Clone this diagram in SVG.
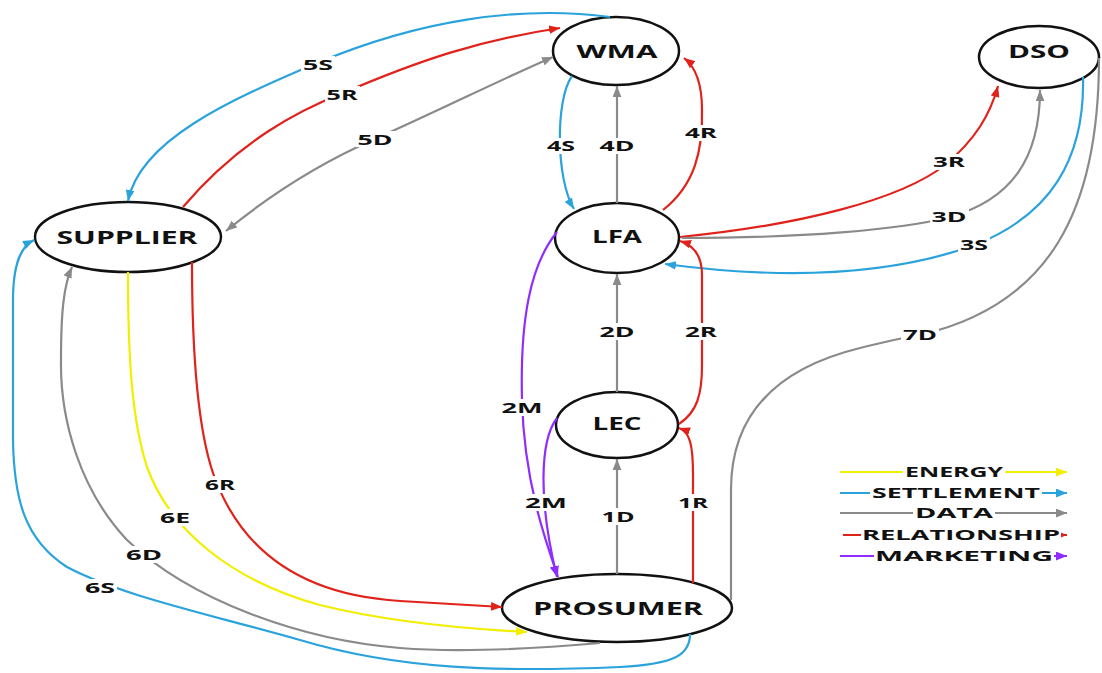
<svg xmlns="http://www.w3.org/2000/svg" width="1102" height="673" viewBox="0 0 1102 673">
<style>
.node ellipse{fill:#fff;stroke:#111;stroke-width:2.5}
.nt{font-family:"Open Sans","Liberation Sans",sans-serif;font-weight:bold;font-size:18px;fill:#111;text-anchor:middle}
.c{fill:none;stroke-width:2.2}
.y{stroke:#f2ee00}.b{stroke:#2aa3dc}.g{stroke:#8a8a8a}.r{stroke:#e0221b}.p{stroke:#8f2cff}
.lt{font-family:"Open Sans","Liberation Sans",sans-serif;font-weight:bold;font-size:15px;fill:#111;text-anchor:middle}
.bg{fill:#fff}
</style>
<defs>
<marker id="ay" viewBox="0 0 10 8" refX="10" refY="4" markerWidth="11" markerHeight="9" markerUnits="userSpaceOnUse" orient="auto-start-reverse"><path d="M0,0 L10,4 L0,8 z" fill="#f2ee00"/></marker>
<marker id="ab" viewBox="0 0 10 8" refX="10" refY="4" markerWidth="11" markerHeight="9" markerUnits="userSpaceOnUse" orient="auto-start-reverse"><path d="M0,0 L10,4 L0,8 z" fill="#2aa3dc"/></marker>
<marker id="ag" viewBox="0 0 10 8" refX="10" refY="4" markerWidth="11" markerHeight="9" markerUnits="userSpaceOnUse" orient="auto-start-reverse"><path d="M0,0 L10,4 L0,8 z" fill="#8a8a8a"/></marker>
<marker id="ar" viewBox="0 0 10 8" refX="10" refY="4" markerWidth="11" markerHeight="9" markerUnits="userSpaceOnUse" orient="auto-start-reverse"><path d="M0,0 L10,4 L0,8 z" fill="#e0221b"/></marker>
<marker id="ap" viewBox="0 0 10 8" refX="10" refY="4" markerWidth="11" markerHeight="9" markerUnits="userSpaceOnUse" orient="auto-start-reverse"><path d="M0,0 L10,4 L0,8 z" fill="#8f2cff"/></marker>
</defs>
<rect width="1102" height="673" fill="#fff"/>

<g id="nodes">
<g id="WMA" class="node"><ellipse cx="616" cy="51" rx="63" ry="34"/><text class="nt" x="617" y="58" textLength="81" lengthAdjust="spacingAndGlyphs">WMA</text></g>
<g id="DSO" class="node"><ellipse cx="1039" cy="57" rx="60" ry="31"/><text class="nt" x="1039" y="58" textLength="62" lengthAdjust="spacingAndGlyphs">DSO</text></g>
<g id="SUPPLIER" class="node"><ellipse cx="128" cy="237" rx="93" ry="35"/><text class="nt" x="127" y="244" textLength="141" lengthAdjust="spacingAndGlyphs">SUPPLIER</text></g>
<g id="LFA" class="node"><ellipse cx="617" cy="238" rx="62" ry="35"/><text class="nt" x="617" y="243" textLength="50" lengthAdjust="spacingAndGlyphs">LFA</text></g>
<g id="LEC" class="node"><ellipse cx="617" cy="425" rx="61" ry="33"/><text class="nt" x="617" y="430" textLength="49" lengthAdjust="spacingAndGlyphs">LEC</text></g>
<g id="PROSUMER" class="node"><ellipse cx="617" cy="608" rx="115" ry="34"/><text class="nt" x="618" y="615" textLength="170" lengthAdjust="spacingAndGlyphs">PROSUMER</text></g>
</g>

<g id="connectors">
<path class="c b" d="M 610 17 C 520 5, 420 20, 317 63 C 230 100, 140 140, 128 201" marker-end="url(#ab)"/>
<path class="c r" d="M 183 207 C 240 140, 300 110, 343 93 C 420 60, 480 40, 560 28" marker-end="url(#ar)"/>
<path class="c g" d="M 226 231 C 270 195, 320 163, 375 139 C 440 110, 500 80, 553 57" marker-start="url(#ag)" marker-end="url(#ag)"/>
<path class="c b" d="M 572 76 C 555 100, 556 180, 574 209" marker-end="url(#ab)"/>
<path class="c g" d="M 617 203 L 617 86" marker-end="url(#ag)"/>
<path class="c r" d="M 663 210 C 695 185, 703 150, 702 110 C 702 85, 697 68, 684 58" marker-end="url(#ar)"/>
<path class="c r" d="M 680 237 C 800 225, 900 200, 945 165 C 975 140, 990 115, 998 86" marker-end="url(#ar)"/>
<path class="c g" d="M 682 238 C 800 238, 900 230, 950 217 C 1010 200, 1040 160, 1040 90" marker-end="url(#ag)"/>
<path class="c b" d="M 1083 77 C 1085 160, 1050 215, 975 245 C 900 272, 800 282, 665 264" marker-end="url(#ab)"/>
<path class="c g" d="M 731 600 L 731 490 C 731 420, 770 370, 860 348 C 880 343, 900 338, 920 335 C 1050 305, 1099 210, 1099 58"/>
<path class="c g" d="M 617 392 L 617 274" marker-end="url(#ag)"/>
<path class="c r" d="M 679 424 C 697 412, 702 395, 702 365 L 702 275 C 702 255, 693 245, 680 241" marker-end="url(#ar)"/>
<path class="c r" d="M 693 583 L 693 475 C 693 445, 690 432, 679 428" marker-end="url(#ar)"/>
<path class="c g" d="M 617 574 L 617 459" marker-end="url(#ag)"/>
<path class="c p" d="M 557 232 C 530 265, 520 320, 522 400 C 524 480, 545 540, 558 577" marker-end="url(#ap)"/>
<path class="c p" d="M 557 418 C 540 440, 538 500, 557 577" marker-end="url(#ap)"/>
<path class="c r" d="M 192 262 C 192 330, 195 420, 213 473 C 240 550, 300 595, 400 601 L 502 607" marker-end="url(#ar)"/>
<path class="c y" d="M 128 272 C 128 360, 132 420, 147 467 C 170 530, 230 580, 320 605 C 380 620, 450 628, 527 632" marker-end="url(#ay)"/>
<path class="c g" d="M 600 643 C 520 650, 450 652, 400 648 C 300 640, 190 600, 127 540 C 80 490, 60 420, 61 360 C 61 310, 64 285, 72 267" marker-end="url(#ag)"/>
<path class="c b" d="M 690 634 C 690 655, 675 664, 620 667 C 500 672, 400 670, 300 640 C 200 612, 120 595, 67 567 C 25 540, 14 500, 13 440 L 13 300 C 13 270, 18 248, 34 240" marker-end="url(#ab)"/>
</g>

<g id="edge-labels">
<rect class="bg" x="301" y="56" width="34" height="16"/><text class="lt" x="318" y="70" textLength="30" lengthAdjust="spacingAndGlyphs">5S</text>
<rect class="bg" x="325" y="86" width="35" height="16"/><text class="lt" x="342" y="100" textLength="31" lengthAdjust="spacingAndGlyphs">5R</text>
<rect class="bg" x="356" y="131" width="39" height="16"/><text class="lt" x="375" y="145" textLength="35" lengthAdjust="spacingAndGlyphs">5D</text>
<rect class="bg" x="545" y="138" width="32" height="16"/><text class="lt" x="561" y="151" textLength="28" lengthAdjust="spacingAndGlyphs">4S</text>
<rect class="bg" x="598" y="138" width="39" height="16"/><text class="lt" x="617" y="151" textLength="35" lengthAdjust="spacingAndGlyphs">4D</text>
<rect class="bg" x="683" y="125" width="36" height="16"/><text class="lt" x="701" y="138" textLength="32" lengthAdjust="spacingAndGlyphs">4R</text>
<rect class="bg" x="931" y="154" width="36" height="16"/><text class="lt" x="949" y="167" textLength="32" lengthAdjust="spacingAndGlyphs">3R</text>
<rect class="bg" x="930" y="209" width="39" height="16"/><text class="lt" x="949" y="222" textLength="35" lengthAdjust="spacingAndGlyphs">3D</text>
<rect class="bg" x="958" y="237" width="32" height="16"/><text class="lt" x="974" y="250" textLength="28" lengthAdjust="spacingAndGlyphs">3S</text>
<rect class="bg" x="901" y="327" width="38" height="16"/><text class="lt" x="920" y="340" textLength="34" lengthAdjust="spacingAndGlyphs">7D</text>
<rect class="bg" x="598" y="323" width="39" height="17"/><text class="lt" x="617" y="337" textLength="35" lengthAdjust="spacingAndGlyphs">2D</text>
<rect class="bg" x="683" y="323" width="36" height="17"/><text class="lt" x="701" y="337" textLength="32" lengthAdjust="spacingAndGlyphs">2R</text>
<rect class="bg" x="500" y="399" width="45" height="17"/><text class="lt" x="522" y="413" textLength="41" lengthAdjust="spacingAndGlyphs">2M</text>
<rect class="bg" x="524" y="494" width="46" height="17"/><text class="lt" x="546" y="508" textLength="42" lengthAdjust="spacingAndGlyphs">2M</text>
<rect class="bg" x="600" y="508" width="37" height="17"/><text class="lt" x="618" y="522" textLength="33" lengthAdjust="spacingAndGlyphs">1D</text>
<rect class="bg" x="676" y="494" width="34" height="17"/><text class="lt" x="693" y="508" textLength="30" lengthAdjust="spacingAndGlyphs">1R</text>
<rect class="bg" x="203" y="476" width="34" height="17"/><text class="lt" x="220" y="490" textLength="30" lengthAdjust="spacingAndGlyphs">6R</text>
<rect class="bg" x="158" y="509" width="34" height="17"/><text class="lt" x="175" y="523" textLength="30" lengthAdjust="spacingAndGlyphs">6E</text>
<rect class="bg" x="124" y="546" width="40" height="17"/><text class="lt" x="144" y="560" textLength="36" lengthAdjust="spacingAndGlyphs">6D</text>
<rect class="bg" x="83" y="579" width="34" height="17"/><text class="lt" x="100" y="593" textLength="30" lengthAdjust="spacingAndGlyphs">6S</text>
</g>

<g id="legend">
<line class="c y" x1="840" y1="472" x2="1067" y2="472" marker-end="url(#ay)"/>
<rect class="bg" x="903" y="464" width="102" height="16"/><text class="lt" x="954" y="477" textLength="98" lengthAdjust="spacingAndGlyphs">ENERGY</text>
<line class="c b" x1="840" y1="493" x2="1067" y2="493" marker-end="url(#ab)"/>
<rect class="bg" x="870" y="485" width="172" height="16"/><text class="lt" x="956" y="498" textLength="168" lengthAdjust="spacingAndGlyphs">SETTLEMENT</text>
<line class="c g" x1="840" y1="513" x2="1067" y2="513" marker-end="url(#ag)"/>
<rect class="bg" x="913" y="505" width="82" height="16"/><text class="lt" x="954" y="518" textLength="78" lengthAdjust="spacingAndGlyphs">DATA</text>
<line class="c r" x1="843" y1="535" x2="1067" y2="535" marker-end="url(#ar)"/>
<rect class="bg" x="861" y="527" width="200" height="16"/><text class="lt" x="961" y="540" textLength="198" lengthAdjust="spacingAndGlyphs">RELATIONSHIP</text>
<line class="c p" x1="840" y1="556" x2="1067" y2="556" marker-end="url(#ap)"/>
<rect class="bg" x="874" y="548" width="180" height="16"/><text class="lt" x="964" y="561" textLength="178" lengthAdjust="spacingAndGlyphs">MARKETING</text>
</g>
</svg>
